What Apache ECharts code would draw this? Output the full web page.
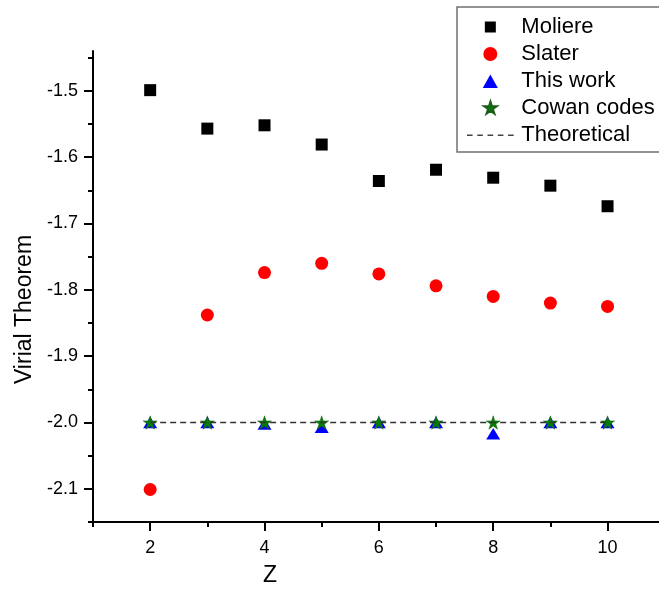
<!DOCTYPE html>
<html>
<head>
<meta charset="utf-8">
<script src="https://cdn.jsdelivr.net/npm/echarts@6/dist/echarts.min.js"></script>
<style>
html,body{margin:0;padding:0;background:#fff;}
#chart{width:659px;height:592px;}
</style>
</head>
<body>
<div id="chart"></div>
<script>
// ---- data ----
var zValues = [2, 3, 4, 5, 6, 7, 8, 9, 10];
var moliere = [-1.499, -1.557, -1.552, -1.581, -1.636, -1.619, -1.631, -1.643, -1.674];
var slater = [-2.101, -1.838, -1.774, -1.760, -1.776, -1.794, -1.810, -1.820, -1.825];
var thisWork = [-2.0, -2.0, -2.002, -2.007, -2.0, -2.0, -2.017, -2.0, -2.0];
var cowan = [-2.0, -2.0, -2.0, -2.0, -2.0, -2.0, -2.0, -2.0, -2.0];
var theoreticalZ = [2, 10];
var theoreticalV = [-2.0, -2.0];
var xMajorTicks = [2, 4, 6, 8, 10];
var xMinorTicks = [1, 3, 5, 7, 9];
var yMajorTicks = [-2.1, -2.0, -1.9, -1.8, -1.7, -1.6, -1.5];
var yMinorTicks = [-2.15, -2.05, -1.95, -1.85, -1.75, -1.65, -1.55, -1.45];
var seriesNames = ['Moliere', 'Slater', 'This work', 'Cowan codes', 'Theoretical'];

function pairs(xs, ys) { return xs.map(function (x, i) { return [x, ys[i]]; }); }

var FONT = 'Liberation Sans, Arial, Helvetica, sans-serif';
var SQUARE = 'path://M0,0H10V10H0Z';
var TRIANGLE = 'path://M5,0L10,9L0,9Z';
var STAR = 'path://M50,0L61.23,34.55L97.55,34.55L68.17,55.9L79.39,90.45L50,69.1L20.61,90.45L31.83,55.9L2.45,34.55L38.77,34.55Z';
// legend icons (invisible move-to points pad the bounding box)
var LEG_SQUARE = 'path://M0,0M14,14M1.5,1.5H12.5V12.5H1.5Z';
var LEG_TRIANGLE = 'path://M0,0M14,13M7,0.5L14,13L0,13Z';
var LEG_STAR = 'path://M-4,-4M102,100M50,0L61.23,34.55L97.55,34.55L68.17,55.9L79.39,90.45L50,69.1L20.61,90.45L31.83,55.9L2.45,34.55L38.77,34.55Z';
var LEG_DASH = 'path://M0,0M0,-7M50,8M0,0h6v1.6h-6z M11,0h6v1.6h-6z M22,0h6v1.6h-6z M33,0h6v1.6h-6z M44,0h6v1.6h-6z';

var chart = echarts.init(document.getElementById('chart'), null, {renderer: 'canvas'});
var axisLineStyle = {color: '#000', width: 2};
var option = {
  animation: false,
  backgroundColor: '#fff',
  grid: {left: 93, top: 51, right: 0, bottom: 69, containLabel: false},
  xAxis: [{
    type: 'value', min: 1, max: 10.9, position: 'bottom',
    name: 'Z', nameLocation: 'middle', nameGap: 42,
    nameTextStyle: {fontSize: 23, fontFamily: FONT, color: '#000', padding: [0, 212, 0, 0]},
    axisLine: {show: true, onZero: false, lineStyle: axisLineStyle},
    axisTick: {show: true, inside: false, length: 9, lineStyle: {color: '#000', width: 2}, customValues: xMajorTicks},
    axisLabel: {show: true, fontSize: 18, fontFamily: FONT, color: '#000', margin: 17, customValues: xMajorTicks},
    splitLine: {show: false}
  }, {
    type: 'value', min: 1, max: 10.9, position: 'bottom', gridIndex: 0,
    axisLine: {show: false},
    axisTick: {show: true, inside: false, length: 5, lineStyle: {color: '#000', width: 2}, customValues: xMinorTicks},
    axisLabel: {show: false},
    splitLine: {show: false}
  }],
  yAxis: [{
    type: 'value', min: -2.15, max: -1.44, position: 'left',
    name: 'Virial Theorem', nameLocation: 'middle', nameRotate: 90, nameGap: 55,
    nameTextStyle: {fontSize: 23, fontFamily: FONT, color: '#000', padding: [0, 46, 0, 0]},
    axisLine: {show: true, onZero: false, lineStyle: axisLineStyle},
    axisTick: {show: true, inside: false, length: 9, lineStyle: {color: '#000', width: 2}, customValues: yMajorTicks},
    axisLabel: {show: true, fontSize: 18, fontFamily: FONT, color: '#000', margin: 15, customValues: yMajorTicks,
      formatter: function (v) { return v.toFixed(1); }},
    splitLine: {show: false}
  }, {
    type: 'value', min: -2.15, max: -1.44, position: 'left', gridIndex: 0,
    axisLine: {show: false},
    axisTick: {show: true, inside: false, length: 5, lineStyle: {color: '#000', width: 2}, customValues: yMinorTicks},
    axisLabel: {show: false},
    splitLine: {show: false}
  }],
  legend: {
    orient: 'vertical', left: 457, top: 7, align: 'left',
    padding: [9, 12, 6, 10],
    itemWidth: 52, itemHeight: 14, itemGap: 5,
    symbolKeepAspect: true,
    borderColor: '#707070', borderWidth: 1.5,
    textStyle: {fontSize: 22, fontFamily: FONT, color: '#000', lineHeight: 22},
    data: [
      {name: seriesNames[0], icon: LEG_SQUARE},
      {name: seriesNames[1], icon: 'circle'},
      {name: seriesNames[2], icon: LEG_TRIANGLE},
      {name: seriesNames[3], icon: LEG_STAR},
      {name: seriesNames[4], icon: LEG_DASH, itemStyle: {color: '#444'}}
    ]
  },
  series: [{
    name: seriesNames[0], type: 'scatter', symbol: SQUARE, symbolSize: 12, symbolKeepAspect: true,
    itemStyle: {color: '#000', opacity: 1}, data: pairs(zValues, moliere), z: 2
  }, {
    name: seriesNames[1], type: 'scatter', symbol: 'circle', symbolSize: 13,
    itemStyle: {color: '#ff0000', opacity: 1}, data: pairs(zValues, slater), z: 2
  }, {
    name: seriesNames[2], type: 'scatter', symbol: TRIANGLE, symbolSize: [14, 13], symbolKeepAspect: true,
    itemStyle: {color: '#0000ff', opacity: 1}, data: pairs(zValues, thisWork), z: 3
  }, {
    name: seriesNames[3], type: 'scatter', symbol: STAR, symbolSize: 14, symbolKeepAspect: true,
    itemStyle: {color: '#008000', borderColor: '#1a5e1a', borderWidth: 0.5, opacity: 1}, data: pairs(zValues, cowan), z: 4
  }, {
    name: seriesNames[4], type: 'line', symbol: 'none', showSymbol: false,
    itemStyle: {color: '#333'},
    lineStyle: {color: '#333', width: 1.5, type: [6, 4]},
    data: pairs(theoreticalZ, theoreticalV), z: 5
  }]
};
chart.setOption(option);
</script>
</body>
</html>
